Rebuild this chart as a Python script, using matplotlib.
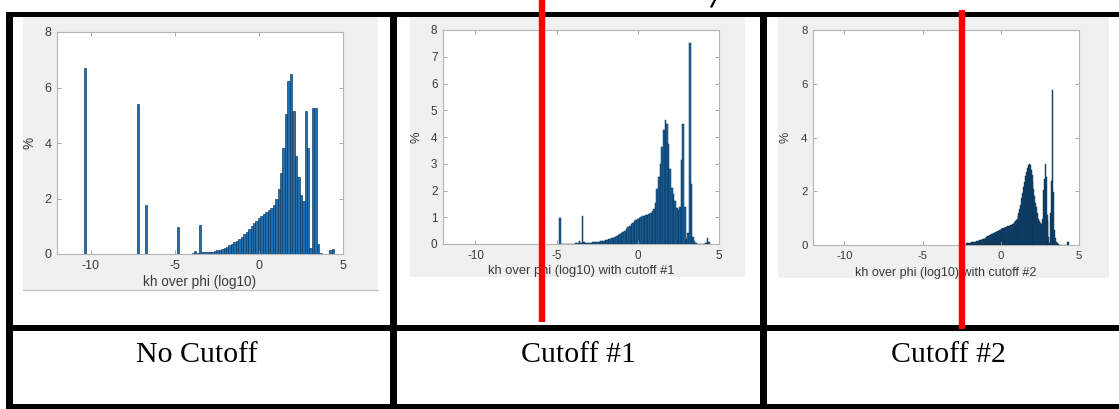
import numpy as np
import matplotlib
matplotlib.use("Agg")
import matplotlib.pyplot as plt
from matplotlib.patches import Rectangle

plt.rcParams['axes.unicode_minus'] = False
plt.rcParams['font.family'] = ['Liberation Sans', 'DejaVu Sans']

W, H = 1119, 409

# ---------------- data ----------------
x_ticks = [-10, -5, 0, 5]
captions = ["No Cutoff", "Cutoff #1", "Cutoff #2"]
xlabels = ["kh over phi (log10)",
           "kh over phi (log10) with cutoff #1",
           "kh over phi (log10) with cutoff #2"]
y_ticks = [[0, 2, 4, 6, 8], [0, 1, 2, 3, 4, 5, 6, 7, 8], [0, 2, 4, 6, 8]]

# Panel 1: no cutoff
p1_spike_x = [-10.33, -7.20, -6.72, -4.82]
p1_spike_h = [6.69, 5.39, 1.77, 0.98]
p1_bin_w = 0.146
p1_first = -4.22
p1_h = [0.01, 0.01, 0.02, 0.12, 0.03, 1.05, 0.08, 0.06, 0.07, 0.08,
        0.09, 0.11, 0.13, 0.15, 0.18, 0.22, 0.26, 0.31, 0.36, 0.42,
        0.48, 0.55, 0.63, 0.71, 0.80, 0.90, 1.00, 1.10, 1.19, 1.28,
        1.37, 1.44, 1.50, 1.58, 1.66, 1.78, 1.97, 2.35, 2.92, 3.82,
        5.04, 6.25, 6.47, 5.17, 3.53, 2.79, 2.11, 1.90, 5.17, 3.82,
        0.22, 5.25, 5.26, 0.35, 0.03, 0.0, 0.0, 0.0, 0.13, 0.18]

# Panel 2: cutoff #1
p2_bin_w = 0.1
p2_first = -4.8
p2_h = [0.98, 0.003, 0.003, 0.003, 0.005, 0.005, 0.01, 0.01, 0.01, 0.01,
        0.02, 0.02, 0.12, 0.03, 1.04, 0.08, 0.04, 0.04, 0.05, 0.05,
        0.06, 0.06, 0.07, 0.08, 0.09, 0.10, 0.11, 0.12, 0.14, 0.15,
        0.17, 0.19, 0.21, 0.23, 0.26, 0.29, 0.32, 0.36, 0.40, 0.45,
        0.50, 0.56, 0.62, 0.68, 0.74, 0.80, 0.85, 0.89, 0.92, 0.96,
        1.00, 1.03, 1.05, 1.07, 1.10, 1.13, 1.17, 1.22, 1.32, 1.52,
        2.06, 2.50, 3.00, 3.63, 4.25, 4.65, 4.50, 3.75, 2.80, 2.10,
        1.88, 1.60, 1.35, 1.28, 1.40, 3.15, 4.50, 1.38, 0.19, 0.40,
        7.50, 2.25, 0.28, 0.12, 0.03, 0.0, 0.0, 0.0, 0.0, 0.0,
        0.05, 0.21, 0.06]

# Panel 3: cutoff #2
p3_bin_w = 0.06
p3_first = -2.20
p3_h = [0.07, 0.07, 0.08, 0.08, 0.09, 0.10, 0.10, 0.11, 0.12, 0.12,
        0.13, 0.14, 0.15, 0.16, 0.17, 0.18, 0.20, 0.21, 0.23, 0.24,
        0.26, 0.28, 0.30, 0.32, 0.34, 0.36, 0.38, 0.40, 0.42, 0.44,
        0.46, 0.48, 0.50, 0.52, 0.53, 0.55, 0.56, 0.58, 0.60, 0.62,
        0.64, 0.65, 0.67, 0.68, 0.69, 0.70, 0.72, 0.73, 0.75, 0.77,
        0.80, 0.84, 0.88, 0.93, 0.98, 1.08, 1.20, 1.33, 1.48, 1.75,
        1.95, 2.15, 2.35, 2.55, 2.72, 2.85, 2.96, 3.00, 2.98, 2.78,
        2.60, 2.35, 2.10, 1.82, 1.58, 1.40, 1.18, 0.98, 0.88, 0.82,
        0.80, 0.95, 2.05, 2.45, 3.02, 2.52, 1.10, 0.88, 0.30, 0.08,
        1.20, 2.38, 5.76, 1.97, 0.55, 0.25, 0.12, 0.06, 0.02, 0.0,
        0.0, 0.0, 0.0, 0.0, 0.0, 0.0, 0.0, 0.0, 0.13, 0.11]

cutoff1_x = -5.9   # red line positions (data units of panels 2/3)
cutoff2_x = -2.45

# ---------------- figure ----------------
fig = plt.figure(figsize=(W / 100, H / 100), dpi=100)
fig.patch.set_facecolor('white')


def px_axes(l, t, r, b, z=0):
    return fig.add_axes([l / W, (H - b) / H, (r - l) / W, (b - t) / H], zorder=z)


# background overlay (pixel coordinates)
bg = px_axes(0, 0, W, H, z=-5)
bg.set_xlim(0, W); bg.set_ylim(H, 0); bg.axis('off')
for (l, t, r, b) in [(23, 17, 378, 290), (410, 17, 745, 277), (778, 17, 1109, 278)]:
    bg.add_patch(Rectangle((l, t), r - l, b - t, facecolor='#f0f0f0', edgecolor='none'))
bg.plot([23, 378], [290, 290], color='#bdbdbd', lw=0.8)

panels = [
    dict(box=(57, 32, 343, 254), w=p1_bin_w, first=p1_first, h=p1_h,
         sx=p1_spike_x, sh=p1_spike_h, face='#1f6fb2', edge='#0d3559', lw=0.45,
         tfs=9.0, lfs=9.8, ylx=-0.072, xly=-0.095),
    dict(box=(443, 30, 719, 244), w=p2_bin_w, first=p2_first, h=p2_h,
         sx=[], sh=[], face='#1a64a3', edge='#0b3050', lw=0.35,
         tfs=8.4, lfs=9.3, ylx=-0.075, xly=-0.098),
    dict(box=(813, 30, 1079, 245), w=p3_bin_w, first=p3_first, h=p3_h,
         sx=[], sh=[], face='#14578e', edge='#08253d', lw=0.3,
         tfs=8.2, lfs=9.0, ylx=-0.08, xly=-0.102),
]

axes = []
for i, p in enumerate(panels):
    ax = px_axes(*p['box'])
    ax.set_facecolor('white')
    centers = p['first'] + p['w'] * np.arange(len(p['h']))
    ax.bar(centers, p['h'], width=p['w'], color=p['face'], edgecolor=p['edge'],
           linewidth=p['lw'], align='center')
    if p['sx']:
        ax.bar(p['sx'], p['sh'], width=p['w'], color=p['face'], edgecolor=p['edge'],
               linewidth=p['lw'], align='center')
    ax.set_xlim(-12, 5)
    ax.set_ylim(0, 8)
    ax.set_xticks(x_ticks)
    ax.set_yticks(y_ticks[i])
    ax.set_xticklabels([str(v) for v in x_ticks])
    ax.set_yticklabels([str(v) for v in y_ticks[i]])
    ax.tick_params(direction='in', length=3, width=0.6, color='#9a9a9a',
                   labelcolor='#3a3a3a', labelsize=p['tfs'], top=True, right=True,
                   pad=4)
    for s in ax.spines.values():
        s.set_color('#b4b4b4')
        s.set_linewidth(0.8)
    ax.set_xlabel(xlabels[i], fontsize=p['lfs'], color='#3a3a3a')
    ax.set_ylabel('%', fontsize=p['lfs'], color='#3a3a3a')
    ax.xaxis.set_label_coords(0.5, p['xly'])
    ax.yaxis.set_label_coords(p['ylx'], 0.5)
    axes.append(ax)

# foreground overlay (pixel coordinates)
fg = px_axes(0, 0, W, H, z=10)
fg.set_xlim(0, W); fg.set_ylim(H, 0); fg.axis('off')
fg.patch.set_alpha(0)

black = 'black'
# outer / inner table borders
fg.add_patch(Rectangle((6, 11.5), W - 6, 5, facecolor=black, edgecolor='none'))      # top
fg.add_patch(Rectangle((6, 325), W - 6, 5.5, facecolor=black, edgecolor='none'))     # row divider
fg.add_patch(Rectangle((6, 404), W - 6, 5, facecolor=black, edgecolor='none'))       # bottom
for xl in (6, 390, 760):
    fg.add_patch(Rectangle((xl, 11.5), 6.5, H - 11.5, facecolor=black, edgecolor='none'))

# red cutoff lines (drawn at the cutoff value on each panel)
for ax, cx, y0, y1 in [(axes[1], cutoff1_x, 0, 322), (axes[2], cutoff2_x, 10, 329)]:
    xd = ax.transData.transform((cx, 0))[0]
    xp = xd / fig.dpi * 100 * (W / (fig.get_figwidth() * 100))
    fg.plot([xp, xp], [y0, y1], color='#ff0000', lw=4.6, solid_capstyle='butt')

# small cut-off glyph fragment at the top
fg.plot([711.5, 715], [6.5, 0], color=black, lw=1.6)

# captions
for cx, txt in zip([197, 578, 948], captions):
    fg.text(cx, 362, txt, ha='center', va='baseline', fontsize=21.5,
            family=['Liberation Serif', 'DejaVu Serif'], color='black')

fig.savefig('out.png', dpi=100, facecolor='white')
